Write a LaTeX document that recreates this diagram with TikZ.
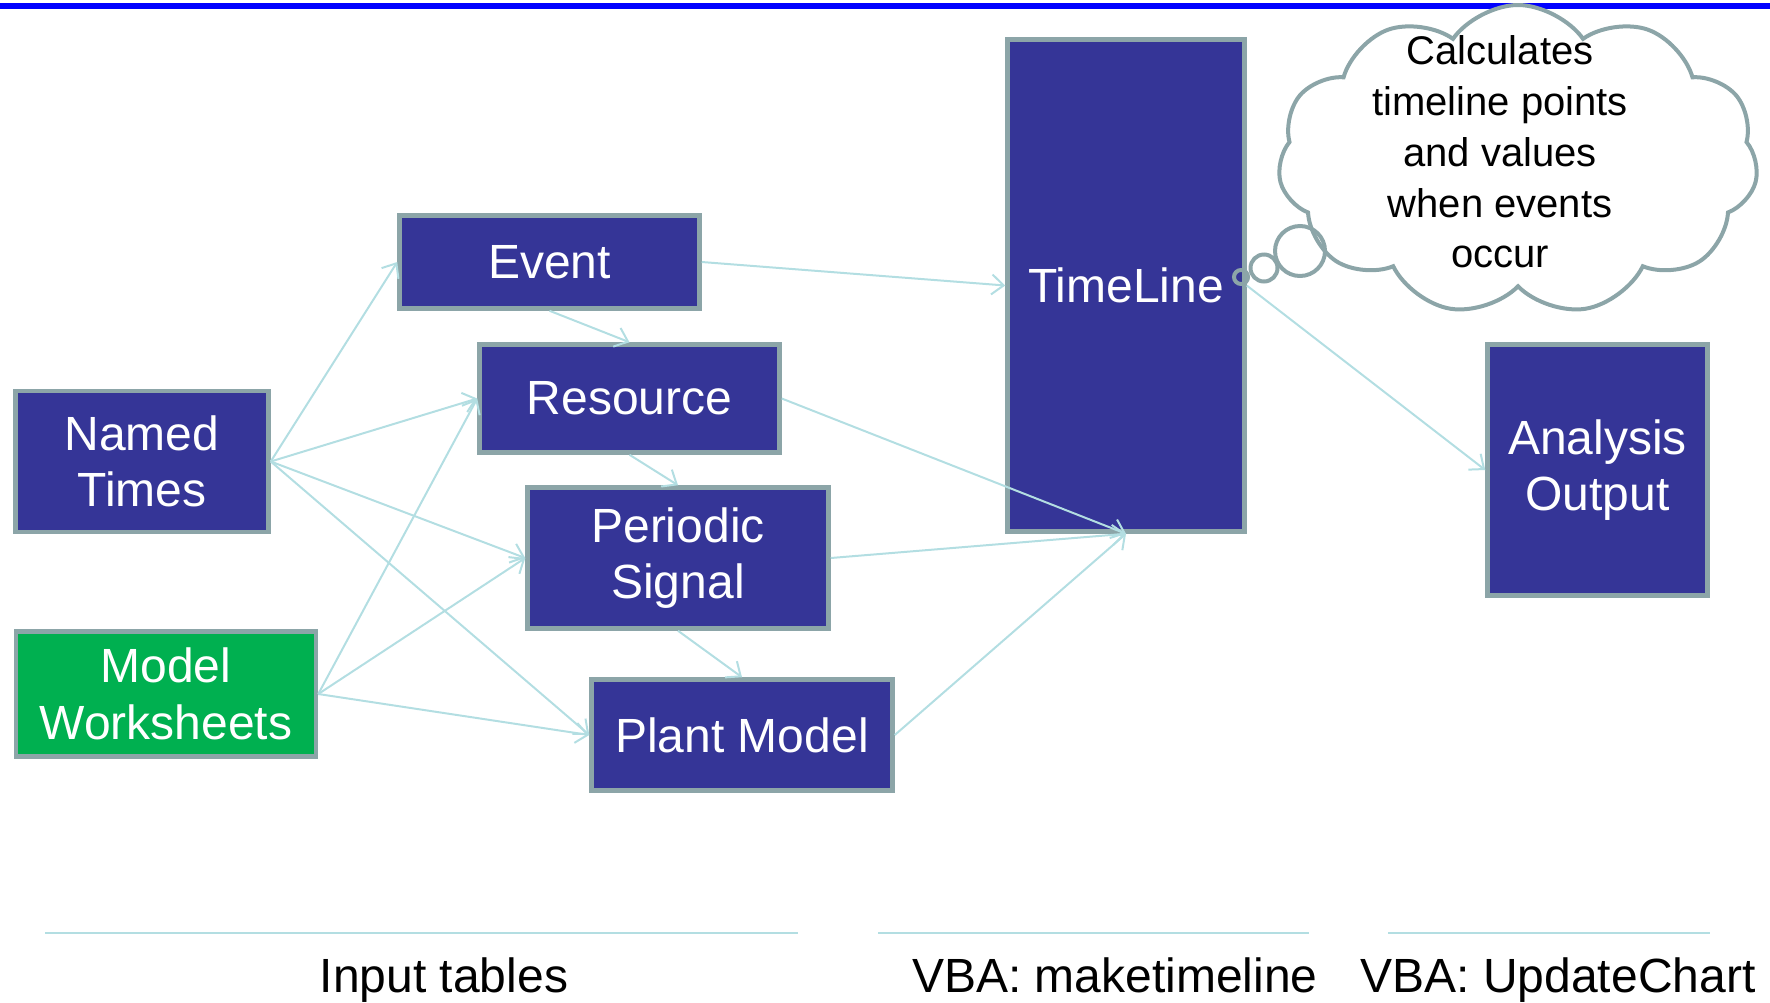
\documentclass[tikz,border=0pt]{standalone}
\usepackage{fontspec}
\setmainfont{Liberation Sans}
\usetikzlibrary{arrows.meta,shapes.symbols}
\definecolor{boxfill}{HTML}{353597}
\definecolor{boxline}{HTML}{8CA5A8}
\definecolor{greenfill}{HTML}{00B050}
\definecolor{arrowc}{HTML}{B3DEE2}
\definecolor{topblue}{HTML}{0000FF}
\tikzset{
  box/.style={draw=boxline, line width=2.25pt, fill=boxfill, text=white,
    align=center, inner sep=0pt, font=\fontsize{24}{28.3}\selectfont},
  gbox/.style={box, fill=greenfill},
  link/.style={draw=arrowc, line width=1pt, -{Straight Barb[length=6pt,width=10pt]}},
  sepline/.style={draw=arrowc, line width=1.2pt},
  lbl/.style={font=\fontsize{24}{28}\selectfont, anchor=base, inner sep=0pt},
  thought/.style={cloud, draw=boxline, line width=2pt, fill=white,
    cloud puffs=11, cloud puff arc=110, aspect=1.6, inner sep=0pt},
  bubble/.style={draw=boxline, line width=2pt, circle, inner sep=0pt},
}
\begin{document}
\begin{tikzpicture}[x=0.5pt, y=-0.5pt]
\useasboundingbox (0,0) rectangle (1770,1002);
\coordinate (bl) at (0,6);
\coordinate (br) at (1770,6);
\draw[topblue, line width=3pt] (bl) -- (br);

\node[box, minimum width=126.5pt, minimum height=70.5pt] (nt) at (142,461.5) {Named\\Times};
\node[gbox, minimum width=150pt, minimum height=62.5pt] (mw) at (166,694) {Model\\Worksheets};
\node[box, minimum width=150pt, minimum height=46.5pt] (ev) at (549.5,262) {Event};
\node[box, minimum width=150pt, minimum height=54pt] (rs) at (629.5,398.5) {Resource};
\node[box, minimum width=150.5pt, minimum height=70.5pt] (ps) at (678,558) {Periodic\\Signal};
\node[box, minimum width=150.5pt, minimum height=55.5pt] (pm) at (742,735) {Plant Model};
\node[box, minimum width=118.5pt, minimum height=246pt] (tl) at (1126,285.5) {TimeLine};
\node[box, minimum width=110pt, minimum height=125.5pt] (ao) at (1597.5,470) {Analysis\\Output};

\node[thought, minimum width=240pt, minimum height=155pt] (cl) at (1518,160) {};
\node[bubble, minimum size=25pt] (b3) at (1300,251) {};
\node[bubble, minimum size=13.5pt] (b2) at (1264,268) {};
\node[bubble, minimum size=7pt] (b1) at (1241,277) {};
\node[align=center, inner sep=0pt, font=\fontsize{20}{25.4}\selectfont] (cltext) at (1500,152)
  {Calculates\\timeline points\\and values\\when events\\occur};

\draw[link] (nt.east) -- (ev.west);
\draw[link] (nt.east) -- (rs.west);
\draw[link] (nt.east) -- (ps.west);
\draw[link] (nt.east) -- (pm.west);
\draw[link] (mw.east) -- (rs.west);
\draw[link] (mw.east) -- (ps.west);
\draw[link] (mw.east) -- (pm.west);
\draw[link] (ev.south) -- (rs.north);
\draw[link] (rs.south) -- (ps.north);
\draw[link] (ps.south) -- (pm.north);
\draw[link] (ev.east) -- (tl.west);
\draw[link] (rs.east) -- (tl.south);
\draw[link] (ps.east) -- (tl.south);
\draw[link] (pm.east) -- (tl.south);
\draw[link] (tl.east) -- (ao.west);

\coordinate (s1a) at (45,933); \coordinate (s1b) at (798,933);
\coordinate (s2a) at (878,933); \coordinate (s2b) at (1309,933);
\coordinate (s3a) at (1388,933); \coordinate (s3b) at (1710,933);
\draw[sepline] (s1a) -- (s1b);
\draw[sepline] (s2a) -- (s2b);
\draw[sepline] (s3a) -- (s3b);

\node[lbl] (l1) at (444,992) {Input tables};
\node[lbl] (l2) at (1115,992) {VBA: maketimeline};
\node[lbl] (l3) at (1558,992) {VBA: UpdateChart};
\end{tikzpicture}
\end{document}
